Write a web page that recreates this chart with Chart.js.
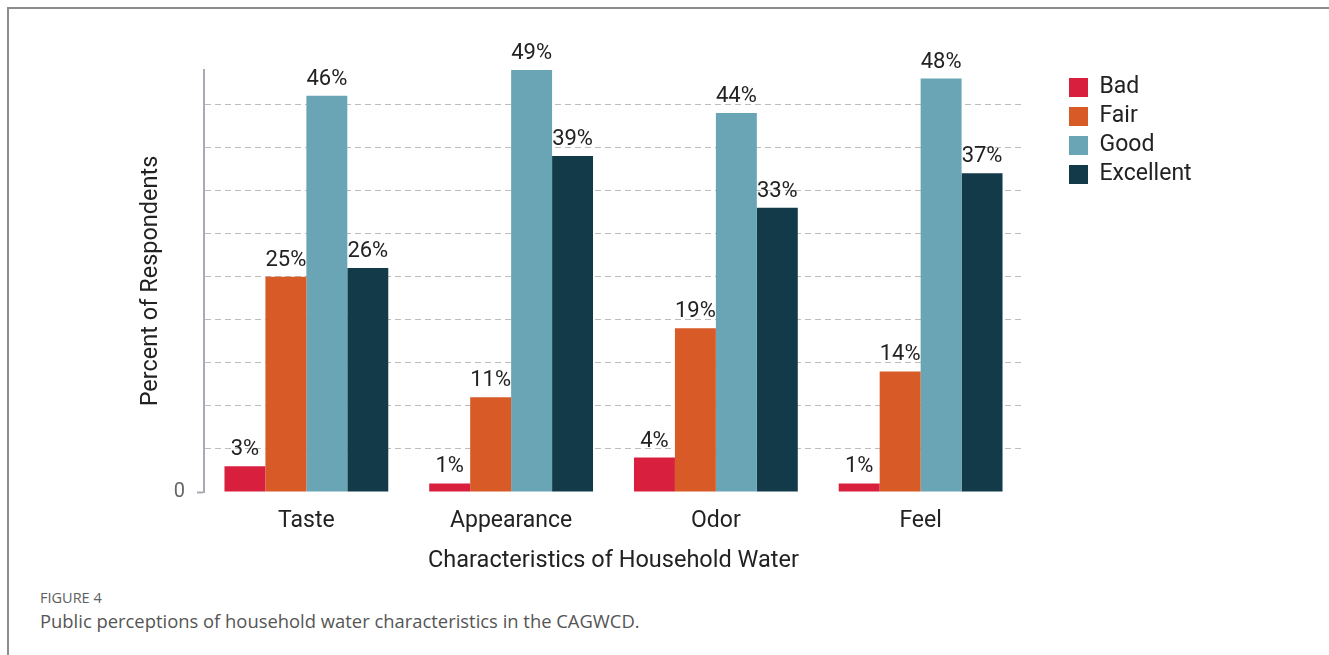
<!DOCTYPE html>
<html>
<head>
<meta charset="utf-8">
<script src="https://cdn.jsdelivr.net/npm/chart.js@4"></script>
<style>
  body { margin: 0; background: #fff; width: 1329px; height: 655px; overflow: hidden; position: relative; }
  .frame { position: absolute; left: 7px; top: 7px; right: 0; bottom: 0; border-top: 2px solid #8c8c8c; border-left: 2px solid #8c8c8c; }
  .wrap { position: absolute; left: 0; top: 0; width: 1329px; height: 585px; }
  .fig { position: absolute; left: 40px; top: 588px; font: 14.5px "Open Sans", sans-serif; color: #606060; }
  .cap { position: absolute; left: 40px; top: 608px; font: 18.4px "Open Sans", sans-serif; color: #555; }
</style>
</head>
<body>
<div class="frame"></div>
<div class="wrap"><canvas id="cht"></canvas></div>
<div class="fig">FIGURE 4</div>
<div class="cap">Public perceptions of household water characteristics in the CAGWCD.</div>
<script>
const categories = ['Taste', 'Appearance', 'Odor', 'Feel'];
const bad = [3, 1, 4, 1];
const fair = [25, 11, 19, 14];
const good = [46, 49, 44, 48];
const excellent = [26, 39, 33, 37];

const barColors = ['#d81f3d', '#d75a27', '#6aa5b6', '#133a48'];

// percent labels above each bar
const valueLabels = {
  id: 'valueLabels',
  afterDatasetsDraw(chart) {
    const ctx = chart.ctx;
    ctx.save();
    ctx.font = '22px Roboto';
    ctx.fillStyle = '#222';
    ctx.textAlign = 'center';
    ctx.textBaseline = 'alphabetic';
    chart.data.datasets.forEach((ds, i) => {
      chart.getDatasetMeta(i).data.forEach((bar, j) => {
        ctx.fillText(ds.data[j] + '%', bar.x, bar.y - 11);
      });
    });
    ctx.restore();
  }
};

// fixed legend width so the legend sits at the same spot
const legendWidth = {
  id: 'legendWidth',
  beforeInit(chart) {
    const fit = chart.legend.fit;
    chart.legend.fit = function () {
      fit.call(this);
      this.width = 266;
    };
  }
};

new Chart('cht', {
  type: 'bar',
  data: {
    labels: categories,
    datasets: [
      { label: 'Bad', data: bad, backgroundColor: barColors[0] },
      { label: 'Fair', data: fair, backgroundColor: barColors[1] },
      { label: 'Good', data: good, backgroundColor: barColors[2] },
      { label: 'Excellent', data: excellent, backgroundColor: barColors[3] }
    ]
  },
  options: {
    responsive: true,
    maintainAspectRatio: false,
    animation: false,
    datasets: { bar: { categoryPercentage: 0.8, barPercentage: 1.0, borderWidth: 0 } },
    layout: { padding: { left: 133, top: 70, right: 0, bottom: 6 } },
    plugins: {
      tooltip: { enabled: false },
      legend: {
        position: 'right',
        align: 'start',
        labels: {
          boxWidth: 19,
          boxHeight: 19,
          padding: 6,
          color: '#222',
          font: { family: 'Roboto', size: 23 }
        }
      }
    },
    scales: {
      x: {
        grid: { display: false, drawTicks: false },
        border: { display: false },
        ticks: { color: '#222', padding: 15, font: { family: 'Roboto', size: 23 } },
        title: {
          display: true,
          text: 'Characteristics of Household Water',
          color: '#222',
          font: { family: 'Roboto', size: 23.5 }
        },
        afterFit(s) { s.height = 87; }
      },
      y: {
        min: 0,
        max: 49,
        ticks: {
          stepSize: 5,
          padding: 12,
          color: '#666',
          font: { family: 'Roboto', size: 20 },
          callback: v => (v === 0 ? '0' : '')
        },
        grid: {
          lineWidth: 1,
          tickLength: 7,
          tickWidth: 2,
          color: c => (c.tick.value > 0 && c.tick.value % 5 === 0 ? '#bdbdbd' : 'transparent'),
          tickColor: c => (c.tick.value === 0 ? '#aaaab2' : 'transparent')
        },
        border: { display: true, color: '#aaaab2', width: 2, dash: [6, 4] },
        title: {
          display: true,
          text: 'Percent of Respondents',
          color: '#222',
          font: { family: 'Roboto', size: 23.5 }
        },
        afterFit(s) { s.width = 71; }
      },
      y2: {
        type: 'linear',
        position: 'right',
        grid: { display: false },
        border: { display: false },
        ticks: { display: false },
        afterFit(s) { s.width = 40; }
      }
    }
  },
  plugins: [valueLabels, legendWidth]
});
</script>
</body>
</html>
